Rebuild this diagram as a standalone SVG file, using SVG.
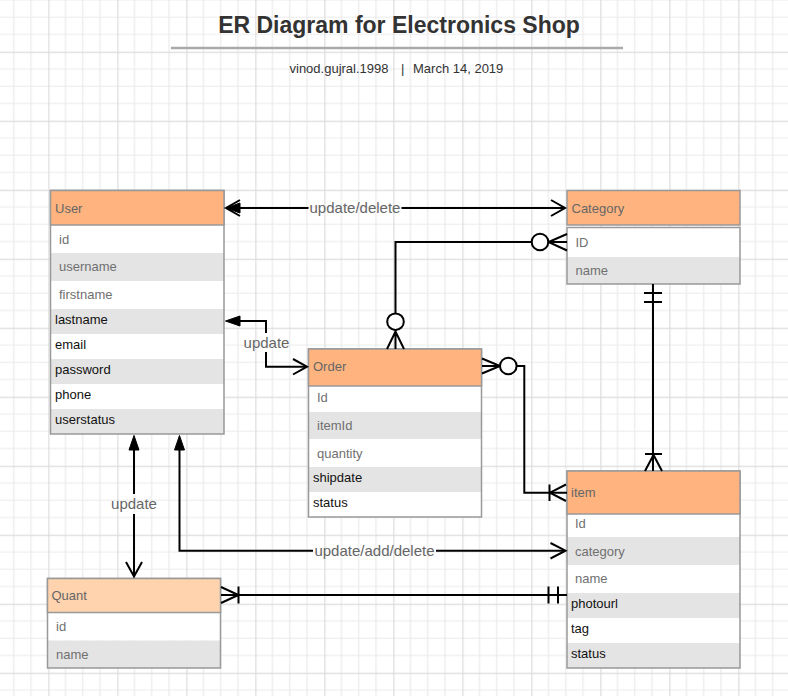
<svg xmlns="http://www.w3.org/2000/svg" width="788" height="696" viewBox="0 0 788 696">
<style>
.hdr{fill:#FFB47F;stroke:#999;stroke-width:1.5}
.hdr2{fill:#FFD3AE;stroke:#999;stroke-width:1.5}
.box{fill:none;stroke:#999;stroke-width:1.5}
.w{fill:#fff}
.g{fill:#e4e4e4}
.t{font-family:"Liberation Sans",Arial,sans-serif;font-size:13px}
.th{fill:#666}
.tg{fill:#707070}
.tb{fill:#111}
.lbl{font-family:"Liberation Sans",Arial,sans-serif;font-size:15px;fill:#666;text-anchor:middle}
.ln{fill:none;stroke:#000;stroke-width:2}
.fill{fill:#000;stroke:#000;stroke-width:1}
.circ{fill:#fff;stroke:#000;stroke-width:2}
</style>
<defs>
<pattern id="grid" patternUnits="userSpaceOnUse" x="-20.7" y="-17.3" width="69" height="69">
<rect width="69" height="69" fill="#fff"/>
<path d="M17.25 0V69M34.5 0V69M51.75 0V69M0 17.25H69M0 34.5H69M0 51.75H69" stroke="#ebebeb" stroke-width="1.2" fill="none"/>
<path d="M0.5 0V69M0 0.5H69" stroke="#dcdcdc" stroke-width="1.4" fill="none"/>
</pattern>
</defs>
<rect width="788" height="696" fill="url(#grid)"/>

<g id="title">
<text x="399" y="33" text-anchor="middle" font-family="Liberation Sans, Arial, sans-serif" font-size="23" font-weight="bold" fill="#333">ER Diagram for Electronics Shop</text>
<line x1="171" y1="48" x2="623" y2="48" stroke="#aaa" stroke-width="2.5"/>
<text y="73" font-family="Liberation Sans, Arial, sans-serif" font-size="13" fill="#333"><tspan x="289.5">vinod.gujral.1998</tspan><tspan x="401">|</tspan><tspan x="413">March 14, 2019</tspan></text>
</g>

<g id="user">
<rect class="w" x="50.5" y="225" width="173.5" height="28"/>
<rect class="g" x="50.5" y="253" width="173.5" height="28"/>
<rect class="w" x="50.5" y="281" width="173.5" height="28"/>
<rect class="g" x="50.5" y="309" width="173.5" height="25"/>
<rect class="w" x="50.5" y="334" width="173.5" height="25"/>
<rect class="g" x="50.5" y="359" width="173.5" height="25"/>
<rect class="w" x="50.5" y="384" width="173.5" height="25"/>
<rect class="g" x="50.5" y="409" width="173.5" height="25"/>
<rect class="box" x="50.5" y="190.5" width="173.5" height="243.5"/>
<rect class="hdr" x="50.5" y="190.5" width="173.5" height="34.5"/>
<text class="t th" x="55" y="213">User</text>
<text class="t tg" x="59" y="244">id</text>
<text class="t tg" x="59" y="271">username</text>
<text class="t tg" x="59" y="299">firstname</text>
<text class="t tb" x="55" y="324">lastname</text>
<text class="t tb" x="55" y="349">email</text>
<text class="t tb" x="55" y="374">password</text>
<text class="t tb" x="55" y="399">phone</text>
<text class="t tb" x="55" y="424">userstatus</text>
</g>

<g id="category">
<rect class="w" x="567" y="228" width="173" height="29"/>
<rect class="g" x="567" y="257" width="173" height="27"/>
<rect class="box" x="567" y="227.5" width="173" height="56.5"/>
<rect class="hdr" x="567" y="190.5" width="173" height="34.5"/>
<text class="t th" x="571.5" y="213">Category</text>
<text class="t tg" x="575.5" y="247">ID</text>
<text class="t tg" x="575.5" y="275">name</text>
</g>

<g id="order">
<rect class="w" x="308.5" y="386" width="173" height="26"/>
<rect class="g" x="308.5" y="412" width="173" height="27"/>
<rect class="w" x="308.5" y="439" width="173" height="28"/>
<rect class="g" x="308.5" y="467" width="173" height="25"/>
<rect class="w" x="308.5" y="492" width="173" height="25"/>
<rect class="box" x="308.5" y="349" width="173" height="168"/>
<rect class="hdr" x="308.5" y="349" width="173" height="37"/>
<text class="t th" x="313" y="371">Order</text>
<text class="t tg" x="317" y="402">Id</text>
<text class="t tg" x="317" y="430">itemId</text>
<text class="t tg" x="317" y="458">quantity</text>
<text class="t tb" x="313" y="481.5">shipdate</text>
<text class="t tb" x="313" y="507">status</text>
</g>

<g id="item">
<rect class="w" x="567" y="514" width="173" height="23"/>
<rect class="g" x="567" y="537" width="173" height="28"/>
<rect class="w" x="567" y="565" width="173" height="28"/>
<rect class="g" x="567" y="593" width="173" height="25"/>
<rect class="w" x="567" y="618" width="173" height="25"/>
<rect class="g" x="567" y="643" width="173" height="25"/>
<rect class="box" x="567" y="471" width="173" height="197"/>
<rect class="hdr" x="567" y="471" width="173" height="43"/>
<text class="t th" x="571" y="497">item</text>
<text class="t tg" x="575" y="528">Id</text>
<text class="t tg" x="575" y="556">category</text>
<text class="t tg" x="575" y="583">name</text>
<text class="t tb" x="571" y="608">photourl</text>
<text class="t tb" x="571" y="633">tag</text>
<text class="t tb" x="571" y="658">status</text>
</g>

<g id="quant">
<rect class="w" x="47.5" y="612" width="173" height="28.5"/>
<rect class="g" x="47.5" y="640.5" width="173" height="27.5"/>
<rect class="box" x="47.5" y="578.5" width="173" height="89.5"/>
<rect class="hdr2" x="47.5" y="578.5" width="173" height="34"/>
<text class="t th" x="51.5" y="600">Quant</text>
<text class="t tg" x="56" y="631">id</text>
<text class="t tg" x="56" y="658.5">name</text>
</g>

<g id="connectors">
<!-- User - Category update/delete -->
<path class="ln" d="M227 208H308.5M401.5 208H564"/>
<path class="ln" d="M240 200L226 208L240 216"/>
<path class="fill" d="M226 208L240 203V213Z"/>
<path class="ln" d="M551 200L565 208L551 216"/>
<text class="lbl" x="355" y="213">update/delete</text>

<!-- Category - Order -->
<path class="ln" d="M531.5 242H395.5V313"/>
<path class="ln" d="M548.5 242H567M567 234L548.5 242L567 250.5"/>
<circle class="circ" cx="540" cy="242" r="8.3"/>
<path class="ln" d="M395.5 330V349M387 349L395.5 331.5L404 349"/>
<circle class="circ" cx="395.5" cy="321.7" r="8.3"/>

<!-- Order - item -->
<path class="ln" d="M482 366H500M482 358.5L500 366L482 373.5"/>
<circle class="circ" cx="508.3" cy="366" r="8.3"/>
<path class="ln" d="M516.6 366H524.3V492.7H567"/>
<path class="ln" d="M566 484.5L550 492.7L566 501M549.5 484.5V501"/>

<!-- Category - item -->
<path class="ln" d="M653 284V471"/>
<path class="ln" d="M644 293H662M644 302H662"/>
<path class="ln" d="M645 454H662M645 471L653.5 455L662 471"/>

<!-- User - Order update -->
<path class="ln" d="M238 321H266V333M266 352V366.7H307"/>
<path class="fill" d="M225.5 321L240 316V326Z"/>
<path class="ln" d="M293 359L307 366.7L293 374.5"/>
<text class="lbl" x="266.5" y="348">update</text>

<!-- User - Quant update -->
<path class="ln" d="M134 447V494M134 514V576"/>
<path class="fill" d="M134 435.5L129 450H139Z"/>
<path class="ln" d="M126 562L134 576.5L142 562"/>
<text class="lbl" x="134" y="509">update</text>

<!-- User - item update/add/delete -->
<path class="ln" d="M179.5 447V550.7H313M436 550.7H565"/>
<path class="fill" d="M179.5 435.5L174.5 450H184.5Z"/>
<path class="ln" d="M550.5 543L565.5 550.7L550.5 558.5"/>
<text class="lbl" x="374.5" y="555.5">update/add/delete</text>

<!-- Quant - item -->
<path class="ln" d="M221 595H567"/>
<path class="ln" d="M221 587L238.5 595L221 603M238.5 586.5V603.5"/>
<path class="ln" d="M548.5 586.5V603.5M558 586.5V603.5"/>
</g>
</svg>
